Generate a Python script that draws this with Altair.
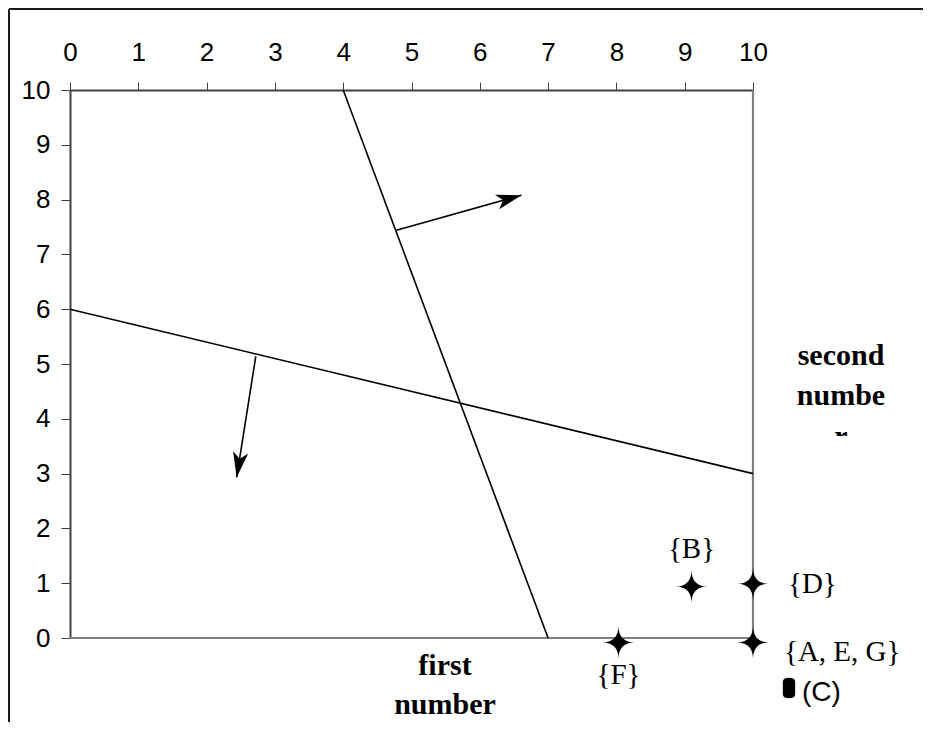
import math
import altair as alt
import pandas as pd

# ---- data ----
# the two constraint lines (end points)
line_x1 = [4, 0]
line_y1 = [10, 6]
line_x2 = [7, 10]
line_y2 = [0, 3]

# the two direction arrows (start and tip)
arrow_x1 = [4.78, 2.72]
arrow_y1 = [7.44, 5.14]
arrow_x2 = [6.61, 2.44]
arrow_y2 = [8.08, 2.93]

# star points and their labels
point_names = ["{B}", "{D}", "{F}", "{A, E, G}"]
point_x = [9.1, 10.0, 8.03, 10.0]
point_y = [0.94, 0.99, -0.08, -0.08]

tick_values = list(range(0, 11))
x_title_lines = ["first", "number"]
y_title_lines = ["second", "numbe", "r"]
key_label = "(C)"

# ---- layout ----
W, H = 683, 548
PAD = {"left": 62, "top": 82, "right": 170, "bottom": 84}

STAR = "M0,-1.05 Q0.02,-0.02 1,0 Q0.02,0.02 0,1.05 Q-0.02,0.02 -1,0 Q-0.02,-0.02 0,-1.05 Z"
ARROW = "M0,0 L-2,-0.6 L-1.5,0 L-2,0.6 Z"
CAPSULE = "M-0.6,-0.6 Q-0.6,-1 0,-1 Q0.6,-1 0.6,-0.6 L0.6,0.6 Q0.6,1 0,1 Q-0.6,1 -0.6,0.6 Z"

xscale = alt.Scale(domain=[0, 10], nice=False, zero=False)
yscale = alt.Scale(domain=[0, 10], nice=False, zero=False)
xaxis = alt.Axis(orient="top", values=tick_values, title=None, grid=False,
                 tickSize=8, labelPadding=17, labelFlush=False, labelOverlap=False)
yaxis = alt.Axis(orient="left", values=tick_values, title=None, grid=False,
                 tickSize=9, labelPadding=11, labelFlush=False, labelOverlap=False)


def X(f):
    return alt.X(f, type="quantitative", scale=xscale, axis=xaxis)


def Y(f):
    return alt.Y(f, type="quantitative", scale=yscale, axis=yaxis)


one = pd.DataFrame({"k": [0]})

lines_df = pd.DataFrame({"x": line_x1, "y": line_y1, "x2": line_x2, "y2": line_y2})
arrows_df = pd.DataFrame({"x": arrow_x1, "y": arrow_y1, "x2": arrow_x2, "y2": arrow_y2})
arrows_df["angle"] = [
    math.degrees(math.atan2(-(b2 - b1) * H / 10, (a2 - a1) * W / 10)) % 360
    for a1, b1, a2, b2 in zip(arrow_x1, arrow_y1, arrow_x2, arrow_y2)
]
points_df = pd.DataFrame({"name": point_names, "x": point_x, "y": point_y})
border_df = pd.DataFrame({"x": [10, 0], "y": [0, 0], "x2": [10, 10], "y2": [10, 0]})

# outer frame (left and top edges)
frame_left = alt.Chart(one).mark_rule(color="#1a1a1a", strokeWidth=2).encode(
    x=alt.value(-61), y=alt.value(-81), y2=alt.value(H + PAD["bottom"]))
frame_top = alt.Chart(one).mark_rule(color="#1a1a1a", strokeWidth=2).encode(
    x=alt.value(-61), x2=alt.value(W + PAD["right"]), y=alt.value(-81))

border = alt.Chart(border_df).mark_rule(color="#808080", strokeWidth=2.2).encode(
    x=X("x"), y=Y("y"), x2="x2", y2="y2")

lines = alt.Chart(lines_df).mark_rule(color="black", strokeWidth=1.6).encode(
    x=X("x"), y=Y("y"), x2="x2", y2="y2")

shafts = alt.Chart(arrows_df).mark_rule(color="black", strokeWidth=1.6).encode(
    x=X("x"), y=Y("y"), x2="x2", y2="y2")

heads = alt.Chart(arrows_df).mark_point(
    shape=ARROW, filled=True, size=640, color="black", opacity=1, strokeWidth=0).encode(
    x=X("x2"), y=Y("y2"), angle=alt.Angle("angle:Q", scale=None))

stars = alt.Chart(points_df).mark_point(
    shape=STAR, filled=True, size=961, color="black", opacity=1, strokeWidth=0).encode(
    x=X("x"), y=Y("y"))


def label(name, **kw):
    base = dict(font="Liberation Serif", fontSize=29, color="black", baseline="middle")
    base.update(kw)
    return alt.Chart(points_df).transform_filter(
        alt.datum.name == name).mark_text(**base).encode(
        x=X("x"), y=Y("y"), text="name:N")


labels = [
    label("{B}", align="center", dy=-37),
    label("{D}", align="left", dx=35),
    label("{A, E, G}", align="left", dx=31, dy=10),
    label("{F}", align="center", dy=33),
]

key_mark = alt.Chart(one).mark_point(
    shape=CAPSULE, filled=True, size=420, color="black", opacity=1, strokeWidth=0).encode(
    x=alt.value(719), y=alt.value(598))
key_text = alt.Chart(pd.DataFrame({"t": [key_label]})).mark_text(
    font="Liberation Sans", fontSize=28, align="left", baseline="middle", color="black").encode(
    x=alt.value(732), y=alt.value(603), text="t:N")


def title_line(txt, xpos, ypos):
    return alt.Chart(pd.DataFrame({"t": [txt]})).mark_text(
        font="Liberation Serif", fontSize=30, fontWeight="bold", align="center",
        baseline="alphabetic", color="black").encode(
        x=alt.value(xpos), y=alt.value(ypos), text="t:N")


titles = [
    title_line(x_title_lines[0], 375, 585),
    title_line(x_title_lines[1], 375, 624),
    title_line(y_title_lines[0], 771, 275),
    title_line(y_title_lines[1], 771, 315),
    title_line(y_title_lines[2], 771, 356),
]
# the last letter of the right-hand title is cut off in the reference
cutoff = alt.Chart(one).mark_rect(color="white").encode(
    x=alt.value(755), x2=alt.value(790), y=alt.value(346), y2=alt.value(372))

chart = alt.layer(
    frame_left, frame_top, border, lines, shafts, heads, stars, *labels,
    key_mark, key_text, *titles, cutoff
).properties(
    width=W, height=H,
    autosize=alt.AutoSizeParams(type="none"),
    padding=PAD,
).configure_view(stroke=None).configure_axis(
    labelFont="Liberation Sans", labelFontSize=26, labelColor="black",
    domainColor="#404040", domainWidth=2, tickColor="#404040", tickWidth=1,
)

chart.save("out.html", embed_options={"renderer": "svg", "actions": False})
